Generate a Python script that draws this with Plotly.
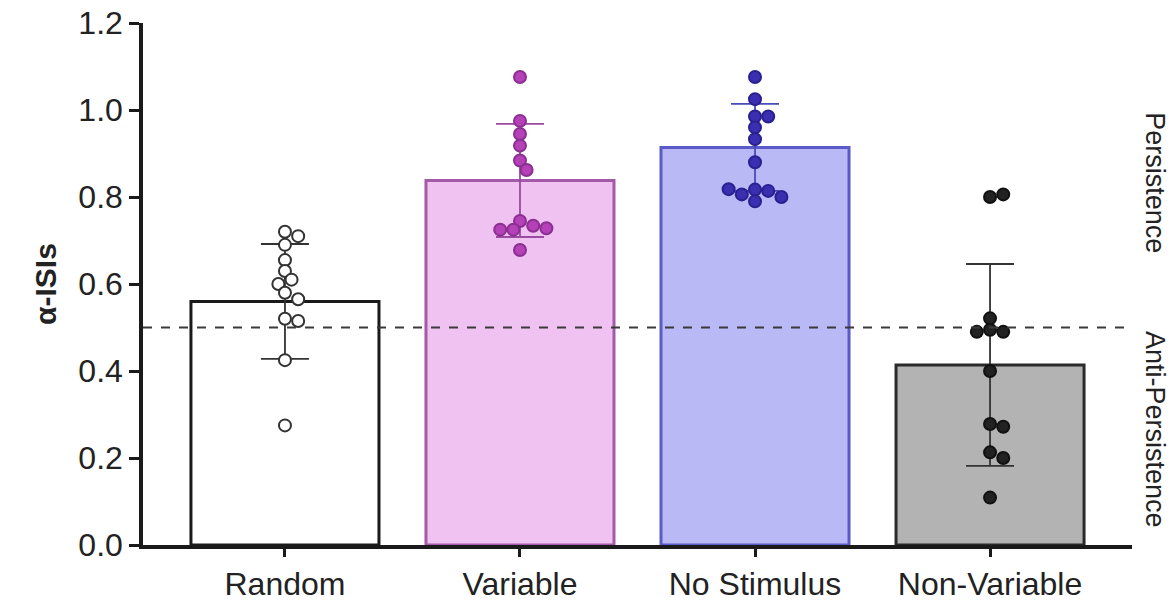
import plotly.graph_objects as go

categories = ["Random", "Variable", "No Stimulus", "Non-Variable"]
bar_means = [0.56, 0.838, 0.914, 0.414]
bar_sd = [0.132, 0.13, 0.10, 0.232]

pts_random = [0.72, 0.71, 0.69, 0.655, 0.63, 0.61, 0.60, 0.58, 0.565, 0.52, 0.515, 0.425, 0.275]
pts_variable = [1.076, 0.975, 0.945, 0.918, 0.884, 0.862, 0.745, 0.734, 0.725, 0.725, 0.728, 0.678]
pts_nostim = [1.076, 1.025, 0.985, 0.985, 0.96, 0.933, 0.88, 0.817, 0.814, 0.806, 0.79, 0.80, 0.818]
pts_nonvar = [0.80, 0.806, 0.521, 0.495, 0.49, 0.49, 0.40, 0.278, 0.272, 0.213, 0.20, 0.109]
point_sets = [pts_random, pts_variable, pts_nostim, pts_nonvar]

ref_line = 0.5
yticks = [0.0, 0.2, 0.4, 0.6, 0.8, 1.0, 1.2]
side_labels = ["Persistence", "Anti-Persistence"]

fills = ["#ffffff", "#f0c2f2", "#b9b9f5", "#b3b3b3"]
borders = ["#1a1a1a", "#a35aa8", "#5a5ac8", "#2a2a2a"]
err_colors = ["#333333", "#9a4aa0", "#4a4ab8", "#333333"]
pt_fill = ["#ffffff", "#b540b8", "#3a2fb0", "#222222"]
pt_line = ["#333333", "#8a3090", "#2a2090", "#111111"]

# plot geometry (px) used for beeswarm offsets
L, R, T, B = 143, 41, 23, 57
W, H = 1173, 602
xr = (-0.604, 3.604)
yr = (0.0, 1.2)
px_per_x = (W - L - R) / (xr[1] - xr[0])
px_per_y = (H - T - B) / (yr[1] - yr[0])
msize = 12


def swarm(vals):
    placed = []
    offs = []
    cand = [0]
    for k in range(1, 8):
        cand += [k * 0.55, -k * 0.55]
    for v in vals:
        for c in cand:
            ok = True
            for (pv, po) in placed:
                dx = (c - po) * msize
                dy = (v - pv) * px_per_y
                if dx * dx + dy * dy < (msize * 0.8) ** 2:
                    ok = False
                    break
            if ok:
                placed.append((v, c))
                offs.append(c * msize / px_per_x)
                break
    return offs


FONT = "Liberation Sans, Arial, Helvetica"

fig = go.Figure()
fig.add_trace(go.Bar(
    x=list(range(4)), y=bar_means, width=0.8,
    marker=dict(color=fills, line=dict(color=borders, width=3)),
    showlegend=False,
))
for i in range(4):
    fig.add_trace(go.Scatter(
        x=[i], y=[bar_means[i]], mode="markers",
        marker=dict(size=1, color="rgba(0,0,0,0)"),
        error_y=dict(type="data", array=[bar_sd[i]], visible=True,
                     color=err_colors[i], thickness=1.8, width=24),
        showlegend=False, hoverinfo="skip",
    ))
fig.add_shape(type="line", x0=xr[0], x1=xr[1], y0=ref_line, y1=ref_line,
              xref="x", yref="y", line=dict(color="#3a3a3a", width=2, dash="dash"))
for i, vals in enumerate(point_sets):
    offs = swarm(vals)
    fig.add_trace(go.Scatter(
        x=[i + o for o in offs], y=vals, mode="markers",
        marker=dict(size=msize, color=pt_fill[i], line=dict(color=pt_line[i], width=2)),
        showlegend=False,
    ))

fig.add_annotation(text=side_labels[0], x=1.0, xref="paper", xanchor="center",
                   y=0.834, yref="y", yanchor="middle", textangle=90, showarrow=False, xshift=23,
                   font=dict(size=27, color="#222222", family=FONT))
fig.add_annotation(text=side_labels[1], x=1.0, xref="paper", xanchor="center",
                   y=ref_line, yref="y", yanchor="top", textangle=90, showarrow=False, xshift=23,
                   yshift=-1, font=dict(size=27, color="#222222", family=FONT))

fig.update_layout(
    width=W, height=H,
    margin=dict(l=L, r=R, t=T, b=B, autoexpand=False),
    plot_bgcolor="white", paper_bgcolor="white",
    font=dict(family=FONT, color="#222222"),
    xaxis=dict(range=list(xr), tickmode="array", tickvals=list(range(4)),
               ticktext=categories, showgrid=False, zeroline=False, automargin=False,
               showline=True, linecolor="#1a1a1a", linewidth=3.5,
               ticks="outside", ticklen=8, tickwidth=3, tickcolor="#1a1a1a",
               tickfont=dict(size=32, color="#222222")),
    yaxis=dict(range=list(yr), tickmode="array", tickvals=yticks,
               ticktext=[f"{v:.1f}" for v in yticks], showgrid=False, zeroline=False,
               automargin=False,
               showline=True, linecolor="#1a1a1a", linewidth=3.5,
               ticks="outside", ticklen=10, tickwidth=3, tickcolor="#1a1a1a",
               tickfont=dict(size=32, color="#222222"),
               title=dict(text="<b>α-ISIs</b>", font=dict(size=30, color="#222222"), standoff=14)),
)

fig.write_html("out.html")
